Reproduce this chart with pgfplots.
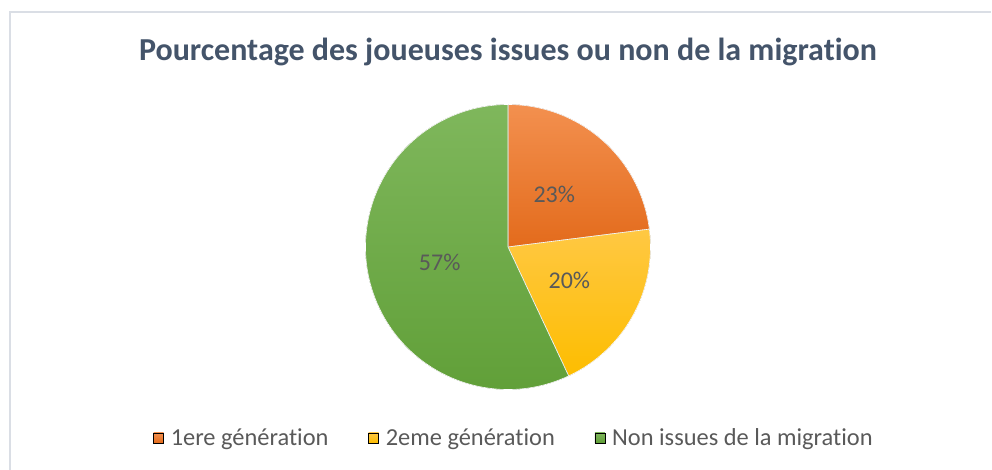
\documentclass[border=0pt]{standalone}
\usepackage{pgfplots}
\pgfplotsset{compat=1.18}
\usepackage{pgfplotstable}
\usepackage{fontspec}
\setmainfont{Carlito}[Ligatures={NoCommon}]
\definecolor{orT}{HTML}{F3904F}
\definecolor{orB}{HTML}{E36B1C}
\definecolor{yeT}{HTML}{FFC843}
\definecolor{yeB}{HTML}{FDBD00}
\definecolor{grT}{HTML}{7FB75C}
\definecolor{grB}{HTML}{5F9E36}
\definecolor{titlec}{HTML}{44546A}
\definecolor{textc}{HTML}{595959}
\definecolor{framec}{HTML}{DADEE5}
\pgfplotstableread{
id value
1 23
2 20
3 57
}\piedata
\pgfplotstablegetelem{0}{value}\of\piedata \let\va\pgfplotsretval
\pgfplotstablegetelem{1}{value}\of\piedata \let\vb\pgfplotsretval
\pgfplotstablegetelem{2}{value}\of\piedata \let\vc\pgfplotsretval
\pgfmathsetmacro{\aO}{90}
\pgfmathsetmacro{\aI}{90-3.6*\va}
\pgfmathsetmacro{\aII}{\aI-3.6*\vb}
\pgfmathsetmacro{\aIII}{\aII-3.6*\vc}
\pgfmathsetmacro{\mA}{(\aO+\aI)/2}
\pgfmathsetmacro{\mB}{(\aI+\aII)/2}
\pgfmathsetmacro{\mC}{(\aII+\aIII)/2}
\begin{document}%
\begin{tikzpicture}
\useasboundingbox (0,0) rectangle (992pt,470pt);
\clip (0,0) rectangle (992pt,470pt);
\begin{axis}[
  hide axis, scale only axis,
  width=992pt, height=470pt,
  xmin=0, xmax=992, ymin=0, ymax=470,
  clip=false,
  legend columns=3,
  legend style={at={(axis cs:514,32)}, anchor=center, draw=none, fill=none,
    font=\fontsize{24.4}{28}\selectfont, text=textc,
    /tikz/every even column/.append style={column sep=38pt}},
]
\draw[framec, line width=2pt] (axis cs:9.5,0) -- (axis cs:9.5,457.5) -- (axis cs:991,457.5);
\node[text=titlec, font=\bfseries\fontsize{32}{36}\selectfont] at (axis cs:508,418) {Pourcentage des joueuses issues ou non de la migration};
\fill[top color=orT, bottom color=orB, draw=white, line width=0.6pt]
  (axis cs:508,223) -- ++(\aO:142.5pt) arc[start angle=\aO, end angle=\aI, radius=142.5pt] -- cycle;
\fill[top color=yeT, bottom color=yeB, draw=white, line width=0.6pt]
  (axis cs:508,223) -- ++(\aI:142.5pt) arc[start angle=\aI, end angle=\aII, radius=142.5pt] -- cycle;
\fill[top color=grT, bottom color=grB, draw=white, line width=0.6pt]
  (axis cs:508,223) -- ++(\aII:142.5pt) arc[start angle=\aII, end angle=\aIII, radius=142.5pt] -- cycle;
\node[text=textc, font=\fontsize{24}{28}\selectfont] at ([shift={(\mA:70pt)}]axis cs:508,223) {\va\%};
\node[text=textc, font=\fontsize{24}{28}\selectfont] at ([shift={(\mB:70pt)}]axis cs:508,223) {\vb\%};
\node[text=textc, font=\fontsize{24}{28}\selectfont] at ([shift={(\mC:70pt)}]axis cs:508,223) {\vc\%};
\addlegendimage{legend image code/.code={\fill[top color=orT, bottom color=orB] (0pt,-5pt) rectangle (10pt,5pt); \path (15pt,0pt);}}
\addlegendentry{1ere génération}
\addlegendimage{legend image code/.code={\fill[top color=yeT, bottom color=yeB] (0pt,-5pt) rectangle (10pt,5pt); \path (15pt,0pt);}}
\addlegendentry{2eme génération}
\addlegendimage{legend image code/.code={\fill[top color=grT, bottom color=grB] (0pt,-5pt) rectangle (10pt,5pt); \path (15pt,0pt);}}
\addlegendentry{Non issues de la migration}
\end{axis}
\end{tikzpicture}%
\end{document}
